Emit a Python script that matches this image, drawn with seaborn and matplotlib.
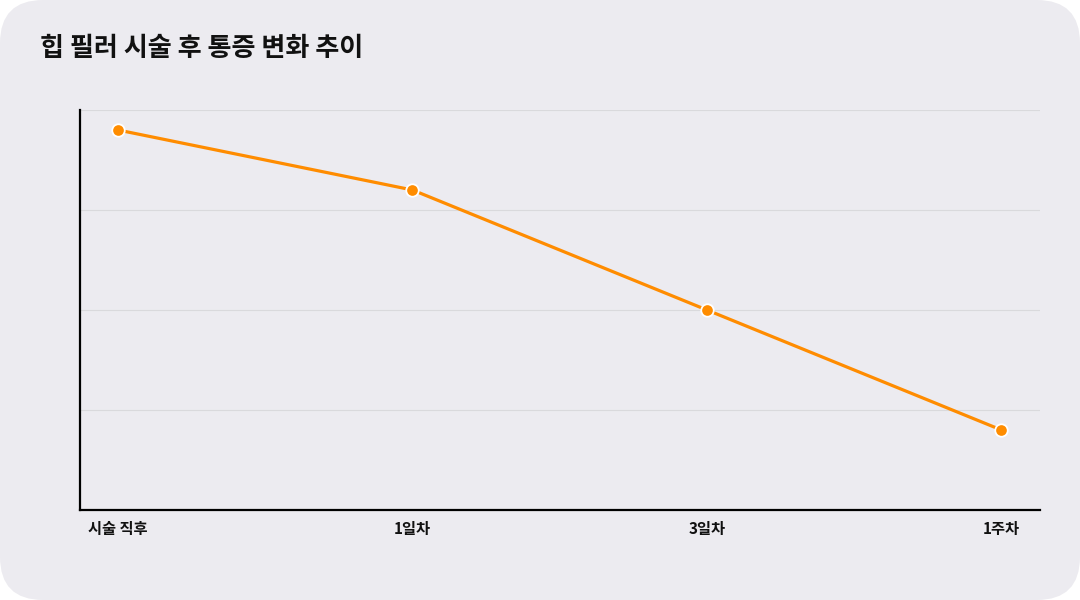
import matplotlib
matplotlib.use('Agg')
import matplotlib.pyplot as plt
import seaborn as sns
import pandas as pd
from matplotlib.patches import FancyBboxPatch

# data
stages = ['시술 직후', '1일차', '3일차', '1주차']
pain = [9.5, 8.0, 5.0, 2.0]
grid_ticks = [2.5, 5.0, 7.5, 10.0]

BG = '#ECEBF0'
ORANGE = '#FF8C00'

sns.set_theme(style='white')
plt.rcParams['font.family'] = ['Noto Sans CJK KR', 'DejaVu Sans']

df = pd.DataFrame({'stage': stages, 'pain': pain})

fig = plt.figure(figsize=(10.8, 6), dpi=100)
fig.patch.set_facecolor('white')
card = FancyBboxPatch((0, 0), 1, 1, boxstyle='round,pad=0,rounding_size=0.04',
                      transform=fig.transFigure, facecolor=BG, edgecolor='none',
                      mutation_aspect=1.8, zorder=-5)
fig.patches.append(card)

ax = fig.add_axes([80 / 1080, 90 / 600, 960 / 1080, 400 / 600])
ax.set_facecolor(BG)

sns.lineplot(data=df, x='stage', y='pain', ax=ax, color=ORANGE, linewidth=2.3,
             marker='o', markersize=9, markerfacecolor=ORANGE,
             markeredgecolor='white', markeredgewidth=1.3, sort=False)

ax.set_ylim(0, 10)
ax.set_xlim(-0.129, 3.131)
ax.set_yticks(grid_ticks)
ax.set_yticklabels([])
ax.tick_params(axis='y', length=0)
ax.tick_params(axis='x', length=0, pad=8)
for lbl in ax.get_xticklabels():
    lbl.set_fontweight('bold')
    lbl.set_fontsize(11)
    lbl.set_color('#111111')
ax.grid(axis='y', color='#D9D9DC', linewidth=0.8)
ax.set_axisbelow(True)
ax.set_xlabel('')
ax.set_ylabel('')

for side in ['top', 'right']:
    ax.spines[side].set_visible(False)
for side in ['left', 'bottom']:
    ax.spines[side].set_color('black')
    ax.spines[side].set_linewidth(1.6)

fig.text(40 / 1080, 1 - 48 / 600, '힙 필러 시술 후 통증 변화 추이', fontsize=18.8,
         fontweight='bold', color='#111111', ha='left', va='center')

fig.savefig('out.png', dpi=100, facecolor='white')
